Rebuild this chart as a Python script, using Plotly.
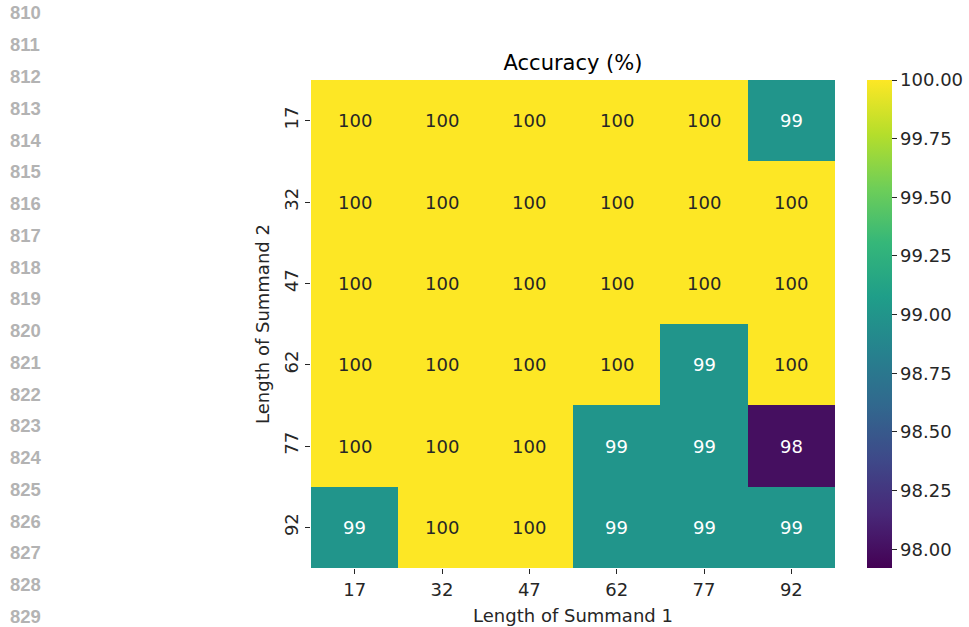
import plotly.graph_objects as go

# Sequence lengths for each summand
summand1 = ["17", "32", "47", "62", "77", "92"]
summand2 = ["17", "32", "47", "62", "77", "92"]

# Accuracy (%) per (summand 2 row, summand 1 column)
acc_17 = [100, 100, 100, 100, 100, 99]
acc_32 = [100, 100, 100, 100, 100, 100]
acc_47 = [100, 100, 100, 100, 100, 100]
acc_62 = [100, 100, 100, 100, 99, 100]
acc_77 = [100, 100, 100, 99, 99, 98]
acc_92 = [99, 100, 100, 99, 99, 99]
accuracy = [acc_17, acc_32, acc_47, acc_62, acc_77, acc_92]

cbar_ticks = [98.0, 98.25, 98.5, 98.75, 99.0, 99.25, 99.5, 99.75, 100.0]
line_numbers = list(range(810, 830))

FONT = "DejaVu Sans"
FS = 18
W, H = 969, 627
ml, mr, mt, mb = 311, 134, 80, 59
pw, ph = W - ml - mr, H - mt - mb

fig = go.Figure()
fig.add_trace(go.Heatmap(
    x=list(range(len(summand1))), y=list(range(len(summand2))), z=accuracy,
    colorscale="Viridis", zmin=97.92, zmax=100.0,
    xgap=0, ygap=0, hoverinfo="skip",
    colorbar=dict(
        xref="container", x=867 / W, xanchor="left", xpad=0,
        y=0.5, yanchor="middle",
        len=1.0, lenmode="fraction", thickness=25, ypad=0,
        outlinewidth=0, tickvals=cbar_ticks, tickformat=".2f",
        ticks="outside", ticklen=5, tickwidth=1, tickcolor="#262626",
        tickfont=dict(family=FONT, size=FS, color="#262626"),
    ),
))

# Cell value labels
annotations = []
for r, row in enumerate(accuracy):
    for c, v in enumerate(row):
        annotations.append(dict(
            x=c, y=r, xref="x", yref="y",
            text=f"{v:.0f}", showarrow=False,
            font=dict(family=FONT, size=FS,
                      color="#262626" if v >= 99.5 else "#ffffff"),
        ))

# Margin line numbers (pixel rows converted to paper coordinates)
for i, n in enumerate(line_numbers):
    px, py = 10, 13 + i * 31.76
    annotations.append(dict(
        x=(px - ml) / pw, y=1 - (py - mt) / ph, xref="paper", yref="paper",
        text=f"<b>{n}</b>", showarrow=False, xanchor="left", yanchor="middle",
        xshift=-1, borderpad=0,
        font=dict(family="Liberation Sans", size=18.5, color="#b3b3b3"),
    ))

fig.update_layout(
    width=W, height=H,
    margin=dict(l=ml, r=mr, t=mt, b=mb, pad=0),
    paper_bgcolor="white", plot_bgcolor="white",
    font=dict(family=FONT, size=FS, color="#262626"),
    title=dict(text="Accuracy (%)", x=(573 - ml) / pw, xref="paper",
               xanchor="center", y=1 - 63 / H, yanchor="middle",
               font=dict(family=FONT, size=21, color="#000000")),
    annotations=annotations,
    xaxis=dict(
        title=dict(text="Length of Summand 1", standoff=10,
                   font=dict(family=FONT, size=FS, color="#262626")),
        tickmode="array", tickvals=list(range(len(summand1))),
        ticktext=summand1, range=[-0.5, len(summand1) - 0.5],
        ticks="outside", ticklen=5, tickwidth=1, automargin=False,
        tickcolor="#262626", showgrid=False, zeroline=False, showline=False,
        tickfont=dict(family=FONT, size=FS, color="#262626"),
    ),
    yaxis=dict(
        title=dict(text="Length of Summand 2", standoff=6,
                   font=dict(family=FONT, size=FS, color="#262626")),
        tickmode="array", tickvals=list(range(len(summand2))),
        ticktext=summand2, range=[len(summand2) - 0.5, -0.5],
        ticks="outside", ticklen=5, automargin=False,
        tickwidth=1, tickcolor="#262626", tickangle=-90,
        showgrid=False, zeroline=False, showline=False,
        tickfont=dict(family=FONT, size=FS, color="#262626"),
    ),
)

fig.write_html("out.html")
